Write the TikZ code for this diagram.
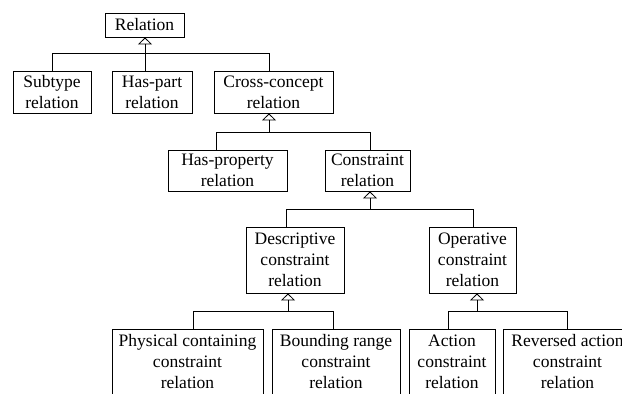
\documentclass[tikz,border=0pt]{standalone}
\usepackage{fontspec}
\setmainfont{Liberation Serif}
\usetikzlibrary{arrows.meta}
\begin{document}
\begin{tikzpicture}[x=1pt,y=-1pt,
 box/.style={draw, line width=0.8pt, inner sep=0pt, align=center, font=\fontsize{17.5}{21}\selectfont},
 link/.style={draw, line width=0.8pt},
 inh/.style={link, -{Triangle[open, width=14pt, length=7pt]}}]
\useasboundingbox (0,0) rectangle (622,394);
\clip (0,0) rectangle (622,394);
\node[box, minimum width=79pt, minimum height=24pt] (rel) at (144.5,25) {Relation};
\node[box, minimum width=78pt, minimum height=42pt] (sub) at (52,92) {Subtype\\relation};
\node[box, minimum width=80pt, minimum height=42pt] (hp) at (152,92) {Has-part\\relation};
\node[box, minimum width=119pt, minimum height=42pt] (cc) at (273.5,92) {Cross-concept\\relation};
\node[box, minimum width=119pt, minimum height=41pt] (hprop) at (227.5,170.5) {Has-property\\relation};
\node[box, minimum width=85pt, minimum height=41pt] (con) at (367.5,170.5) {Constraint\\relation};
\node[box, minimum width=98pt, minimum height=66pt] (desc) at (295,260) {Descriptive\\constraint\\relation};
\node[box, minimum width=87pt, minimum height=66pt] (op) at (472.5,260) {Operative\\constraint\\relation};
\node[box, minimum width=151pt, minimum height=66pt] (phys) at (187.5,362) {Physical containing\\constraint\\relation};
\node[box, minimum width=128pt, minimum height=66pt] (bound) at (336,362) {Bounding range\\constraint\\relation};
\node[box, minimum width=86pt, minimum height=66pt] (act) at (452,362) {Action\\constraint\\relation};
\node[box, minimum width=129pt, minimum height=66pt] (rev) at (567.5,362) {Reversed action\\constraint\\relation};
% bus 1
\coordinate (j1) at (145,53);
\draw[link] (sub.north) |- (j1);
\draw[link] ([xshift=-4.5pt]cc.north) |- (j1);
\draw[inh] (hp.north -| j1) -- (rel.south -| j1);
% bus 2
\coordinate (j2) at (269,132);
\draw[link] ([xshift=-11.5pt]hprop.north) |- (j2);
\draw[link] ([xshift=2.5pt]con.north) |- (j2);
\draw[inh] (j2) -- (cc.south -| j2);
% bus 3
\coordinate (j3) at (370,209);
\draw[link] ([xshift=-9pt]desc.north) |- (j3);
\draw[link] ([xshift=0.5pt]op.north) |- (j3);
\draw[inh] (j3) -- (con.south -| j3);
% bus 4
\coordinate (j4) at (288,311);
\draw[link] ([xshift=5.5pt]phys.north) |- (j4);
\draw[link] ([xshift=-3pt]bound.north) |- (j4);
\draw[inh] (j4) -- (desc.south -| j4);
% bus 5
\coordinate (j5) at (477,311);
\draw[link] ([xshift=-4pt]act.north) |- (j5);
\draw[link] ([xshift=-0.5pt]rev.north) |- (j5);
\draw[inh] (j5) -- (op.south -| j5);
\end{tikzpicture}
\end{document}
